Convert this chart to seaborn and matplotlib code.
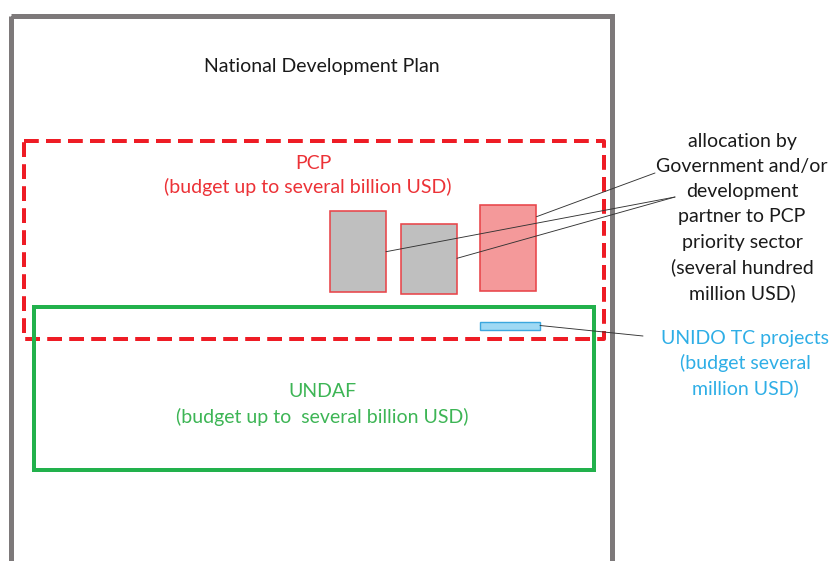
import matplotlib
matplotlib.use("Agg")
import matplotlib.pyplot as plt
from matplotlib.patches import Rectangle
import seaborn as sns

# ---- content ----
plan_label = "National Development Plan"
pcp_labels = ["PCP", "(budget up to several billion USD)"]
undaf_labels = ["UNDAF", "(budget up to  several billion USD)"]
alloc_labels = ["allocation by", "Government and/or", "development",
                "partner to PCP", "priority sector", "(several hundred",
                "million USD)"]
unido_labels = ["UNIDO TC projects", "(budget several", "million USD)"]

# allocation blocks (three priority-sector allocations) and UNIDO TC bar
alloc_kind = ["gov", "gov", "partner"]

sns.set_theme(style="white")
plt.rcParams['font.family'] = ['Lato', 'DejaVu Sans']

W, H = 830, 561
fig = plt.figure(figsize=(8.3, 5.61), dpi=100)
ax = fig.add_axes([0, 0, 1, 1])
ax.set_xlim(0, W)
ax.set_ylim(H, 0)
ax.axis("off")

PX = 72 / 100  # points per pixel
FS = 14.0

# outer National Development Plan frame (bottom beyond view)
ax.add_patch(Rectangle((10.5, 15.5), 601.5, 600, fill=False,
                       edgecolor="#7d797a", lw=5 * PX, joinstyle="miter"))
ax.text(322, 66, plan_label, ha="center", va="center", fontsize=FS,
        color="#1a1a1a")

# PCP dashed frame
ax.add_patch(Rectangle((23.5, 141), 580, 197.5, fill=False,
                       edgecolor="#ee1c25", lw=4 * PX,
                       linestyle=(0, (3.7, 1.8)), joinstyle="round"))
red_txt = "#ec3237"
ax.text(313, 163, pcp_labels[0], ha="center", va="center", fontsize=FS, color=red_txt)
ax.text(308, 187, pcp_labels[1], ha="center", va="center", fontsize=FS, color=red_txt)

# UNDAF frame
ax.add_patch(Rectangle((33.5, 306.5), 560.5, 163, fill=False,
                       edgecolor="#22b14c", lw=4 * PX, joinstyle="miter"))
green_txt = "#3db555"
ax.text(322, 391, undaf_labels[0], ha="center", va="center", fontsize=FS, color=green_txt)
ax.text(322, 417, undaf_labels[1], ha="center", va="center", fontsize=FS, color=green_txt)

# allocation blocks
block_geom = [(330, 211, 56, 81), (401, 224, 56, 70), (480, 205, 56, 86)]
fills = {"gov": "#bfbfbf", "partner": "#f4999a"}
for (x, y, w, h), k in zip(block_geom, alloc_kind):
    ax.add_patch(Rectangle((x, y), w, h, facecolor=fills[k],
                           edgecolor="#e8454a", lw=1.6 * PX))

# UNIDO TC bar
ax.add_patch(Rectangle((480, 322), 60, 7.5, facecolor="#9fd9f4",
                       edgecolor="#3ba7de", lw=1.4 * PX))

# connector lines
lc = "#333333"
ax.plot([536.5, 655], [216.7, 173], color=lc, lw=0.9 * PX)
ax.plot([386, 675], [251.7, 197], color=lc, lw=0.9 * PX)
ax.plot([457, 675], [258.3, 197], color=lc, lw=0.9 * PX)
ax.plot([540, 643], [325.5, 336], color=lc, lw=0.9 * PX)

# right-side labels
for i, s in enumerate(alloc_labels):
    ax.text(742, 141 + i * 25.3, s, ha="center", va="center",
            fontsize=FS, color="#1a1a1a")
for i, s in enumerate(unido_labels):
    ax.text(745, 338 + i * 25.3, s, ha="center", va="center",
            fontsize=FS, color="#2eaee6")

fig.savefig("out.png", dpi=100)
